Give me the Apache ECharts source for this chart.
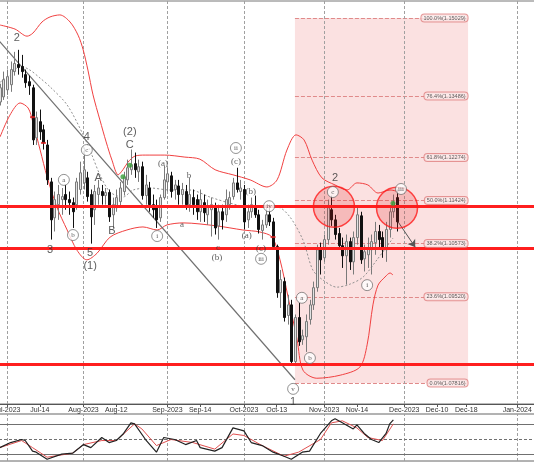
<!DOCTYPE html>
<html><head><meta charset="utf-8">
<script src="https://cdn.jsdelivr.net/npm/echarts@6/dist/echarts.min.js"></script>
<style>html,body{margin:0;padding:0;background:#fff}#c{width:534px;height:462px}</style>
</head><body><div id="c"></div>
<script>
// ---- x axis (bar index: 0 = first trading day of Jul-2023; future part in calendar days) ----
const tickIdx = [0, 9, 21, 30, 44, 53, 65, 74, 87, 96, 109, 118, 126, 140];
const tickLabels = ['Jul-2023','Jul-14','Aug-2023','Aug-12','Sep-2023','Sep-14','Oct-2023','Oct-13','Nov-2023','Nov-14','Dec-2023','Dec-10','Dec-18','Jan-2024'];
const monthIdx = [0, 21, 44, 65, 87, 109, 140];

// ---- daily candles, first bar index = barStart ----
const barStart = -2;
const opens = [
 1.1337,1.1347,1.1361,1.1371,1.1397,1.1411,1.1407,1.1391,1.1377,1.1365,
 1.1266,1.1298,1.1282,1.1252,1.1179,1.1108,1.1134,1.1144,1.1154,1.1144,
 1.1138,1.1134,1.1164,1.1177,1.1187,1.1154,1.1124,1.1154,1.1160,1.1152,
 1.1158,1.1114,1.1128,1.1140,1.1160,1.1183,1.1203,1.1215,1.1199,1.1209,
 1.1152,1.1167,1.1134,1.1128,1.1108,1.1148,1.1179,1.1191,1.1164,1.1171,
 1.1154,1.1160,1.1134,1.1148,1.1144,1.1120,1.1138,1.1114,1.1124,1.1128,
 1.1092,1.1120,1.1114,1.1134,1.1150,1.1177,1.1160,1.1164,1.1104,1.1120,
 1.1130,1.1114,1.1083,1.1094,1.1114,1.1100,1.1051,1.0960,1.0982,1.0915,
 1.0936,1.0824,1.0911,1.0867,1.0873,1.0907,1.0936,1.0970,1.1049,1.1029,
 1.1065,1.1124,1.1104,1.1077,1.1053,1.1033,1.1061,1.1021,1.1069,1.1112,
 1.1027,1.1035,1.1045,1.1059,1.1081,1.1069,1.1045,1.1085,1.1120,1.1148];
const closes = [
 1.1365,1.1381,1.1387,1.1401,1.1413,1.1405,1.1397,1.1375,1.1369,1.1262,
 1.1306,1.1278,1.1256,1.1183,1.1104,1.1144,1.1154,1.1150,1.1144,1.1138,
 1.1120,1.1179,1.1197,1.1203,1.1150,1.1110,1.1160,1.1167,1.1152,1.1158,
 1.1110,1.1134,1.1148,1.1167,1.1189,1.1207,1.1213,1.1203,1.1209,1.1152,
 1.1173,1.1134,1.1124,1.1104,1.1148,1.1183,1.1195,1.1160,1.1173,1.1154,
 1.1164,1.1134,1.1154,1.1134,1.1120,1.1144,1.1118,1.1130,1.1134,1.1088,
 1.1120,1.1104,1.1144,1.1148,1.1177,1.1164,1.1167,1.1100,1.1120,1.1134,
 1.1114,1.1085,1.1094,1.1114,1.1100,1.1051,1.0960,1.0986,1.0911,1.0936,
 1.0824,1.0911,1.0863,1.0875,1.0903,1.0936,1.0970,1.1045,1.1025,1.1065,
 1.1128,1.1104,1.1075,1.1053,1.1033,1.1061,1.1021,1.1069,1.1114,1.1025,
 1.1041,1.1049,1.1061,1.1081,1.1065,1.1045,1.1085,1.1120,1.1138,1.1100];
const highs = [
 1.1373,1.1397,1.1401,1.1417,1.1436,1.1440,1.1430,1.1401,1.1389,1.1371,
 1.1318,1.1322,1.1292,1.1262,1.1187,1.1160,1.1173,1.1167,1.1173,1.1160,
 1.1148,1.1187,1.1219,1.1247,1.1199,1.1164,1.1173,1.1183,1.1173,1.1167,
 1.1164,1.1148,1.1164,1.1179,1.1199,1.1223,1.1243,1.1237,1.1223,1.1219,
 1.1193,1.1179,1.1154,1.1144,1.1154,1.1211,1.1207,1.1199,1.1183,1.1183,
 1.1177,1.1173,1.1187,1.1164,1.1154,1.1164,1.1154,1.1144,1.1148,1.1138,
 1.1134,1.1134,1.1164,1.1160,1.1187,1.1207,1.1183,1.1173,1.1134,1.1148,
 1.1152,1.1124,1.1104,1.1128,1.1134,1.1108,1.1055,1.1005,1.0990,1.0956,
 1.0946,1.0917,1.0940,1.0887,1.0917,1.0946,1.0982,1.1055,1.1059,1.1075,
 1.1144,1.1152,1.1114,1.1088,1.1069,1.1075,1.1069,1.1081,1.1128,1.1120,
 1.1055,1.1069,1.1075,1.1100,1.1094,1.1081,1.1100,1.1128,1.1154,1.1164];
const lows = [
 1.1330,1.1341,1.1351,1.1357,1.1389,1.1391,1.1385,1.1365,1.1351,1.1252,
 1.1252,1.1262,1.1243,1.1173,1.1065,1.1081,1.1104,1.1114,1.1124,1.1114,
 1.1088,1.1124,1.1154,1.1164,1.1140,1.1057,1.1094,1.1134,1.1134,1.1134,
 1.1100,1.1088,1.1120,1.1128,1.1152,1.1173,1.1193,1.1187,1.1179,1.1144,
 1.1134,1.1120,1.1108,1.1088,1.1100,1.1144,1.1160,1.1148,1.1144,1.1134,
 1.1134,1.1124,1.1120,1.1114,1.1104,1.1100,1.1100,1.1094,1.1071,1.1075,
 1.1065,1.1085,1.1100,1.1124,1.1144,1.1158,1.1144,1.1085,1.1088,1.1108,
 1.1108,1.1077,1.1065,1.1088,1.1092,1.1045,1.0950,1.0930,1.0903,1.0897,
 1.0816,1.0816,1.0855,1.0857,1.0843,1.0897,1.0926,1.0962,1.0996,1.1021,
 1.1055,1.1092,1.1065,1.1045,1.1009,1.0976,1.1005,1.0996,1.1055,1.1017,
 1.1002,1.1009,1.0996,1.1035,1.1045,1.1029,1.1021,1.1069,1.1108,1.1081];

// ---- Bollinger bands (read at sampled bar positions) ----
const upperIdx = [-1.9,2.2,5.5,7.1,9.6,11.8,14.5,17.3,19.5,20.9,22.2,23.6,25.5,27.2,28.8,30.5,31.8,33.2,35.1,37.9,43.3,48.8,52.9,57.1,62.0,66.7,71.3,74.1,76.8,79.3,81.5,83.7,86.4,90.0,93.3,96.0,99.0,101.8,105.1,107.8];
const upperVal = [1.1489,1.1481,1.1467,1.1473,1.1495,1.1505,1.1509,1.1495,1.1469,1.1440,1.1400,1.1351,1.1301,1.1258,1.1222,1.1193,1.1203,1.1218,1.1230,1.1232,1.1232,1.1228,1.1224,1.1203,1.1193,1.1183,1.1169,1.1183,1.1242,1.1272,1.1262,1.1222,1.1187,1.1173,1.1163,1.1177,1.1173,1.1157,1.1163,1.1159];
const lowerIdx = [-1.9,0.8,3.6,5.8,7.1,9.1,11.0,13.7,16.5,19.2,21.9,24.7,28.3,32.9,37.3,41.2,43.9,48.3,57.6,64.7,69.4,72.7,74.9,77.1,79.6,81.2,85.0,91.4,96.8,98.8,100.4,101.8,103.7,105.1,105.9];
const lowerVal = [1.1268,1.1311,1.1335,1.1325,1.1297,1.1242,1.1189,1.1129,1.1084,1.1044,1.1025,1.1038,1.1070,1.1084,1.1090,1.1084,1.1094,1.1098,1.1092,1.1084,1.1080,1.1070,1.1025,1.0952,1.0867,1.0807,1.0791,1.0797,1.0813,1.0857,1.0936,1.0975,1.0991,1.0999,1.0995];
const midIdx = [-1.9,0.8,3.6,6.3,9.1,11.8,16.5,20.9,23.3,25.5,28.3,31.8,34.6,39.2,44.7,50.2,55.7,61.2,66.7,71.3,74.3,77.6,81.2,83.9,86.7,90.5,94.1,97.7,101.5,105.9];
const midVal = [1.1376,1.1390,1.1408,1.1400,1.1384,1.1367,1.1331,1.1272,1.1232,1.1193,1.1159,1.1149,1.1163,1.1167,1.1163,1.1163,1.1149,1.1137,1.1129,1.1129,1.1129,1.1110,1.1064,1.1005,1.0985,1.0971,1.0977,1.0991,1.1025,1.1068];

// ---- trend line ----
const trendIdx = [-2.2, 79];
const trendVal = [1.1458, 1.0788];

// ---- horizontal levels ----
const hLines = [1.11304, 1.10470, 1.08191];
const fibPct = ['0.0%','23.6%','38.2%','50.0%','61.8%','76.4%','100.0%'];
const fibVal = [1.07816,1.09520,1.10573,1.11424,1.12274,1.13486,1.15029];
const fibFrom = 79, fibTo = 126.5;

// ---- highlight circles, arrow, markers ----
const circleIdx = [89.7, 107.0];
const circleVal = [1.1130, 1.1128];
const arrowIdx = [107.3, 112];
const arrowVal = [1.1100, 1.1050];
const greenIdx = [31.8, 33.7, 105.9];
const greenVal = [1.1189, 1.1212, 1.1137];
const redMarkIdx = [7, 10, 73];
const redMarkVal = [1.1307, 1.1256, 1.1070];

// ---- wave labels ----
const bigText = ['2','4','(2)','C','A','B','3','5','(1)','2','1'];
const bigIdx  = [2.7,21.9,33.7,33.7,25.0,28.8,11.8,22.8,22.8,90.0,78.5];
const bigVal  = [1.1463,1.1268,1.1278,1.1252,1.1187,1.1082,1.1044,1.1038,1.1013,1.1187,1.0744];
const smallText = ['(a)','b','a','c','(b)','(c)','(b)','(a)','(c)'];
const smallIdx  = [42.8,49.9,48.0,57.9,57.6,62.8,66.9,65.8,69.7];
const smallVal  = [1.1216,1.1191,1.1094,1.1050,1.1029,1.1220,1.1159,1.1072,1.1048];
const circText = ['c','a','b','i','ii','iv','iii','a','b','v','c','i','iii'];
const circIdx  = [21.9,15.6,18.1,41.2,62.8,71.9,69.7,80.9,83.1,78.5,89.4,98.8,108.1];
const circVal  = [1.1242,1.1183,1.1074,1.1072,1.1246,1.1131,1.1027,1.0950,1.0831,1.0770,1.1159,1.0975,1.1165];

// ---- oscillator panel ----
const oscIdx = [-2,1,4,5,7,8,11,15,18,21,23,26,28,30,32,34,35,38,41,43,46,49,52,53,57,59,62,65,67,70,73,76,78,81,83,86,89,90,92,95,96,98,100,102,104,105,106];
const oscMain = [33,43,49,47,26,24,10,20,22,39,33,53,43,47,61,82,80,49,24,53,49,39,47,33,26,33,72,66,43,37,24,16,10,24,26,61,86,90,82,70,78,61,49,43,61,80,88];
const sigIdx = [-2,4,7,11,18,21,26,30,35,37,41,45,51,57,62,65,70,76,80,86,89,92,96,99,103,106];
const sigVal = [33,47,33,14,22,39,47,47,80,70,37,49,43,30,60,57,37,16,24,49,82,86,72,53,47,80];
const oscLevels = [80, 50, 20];

// ================= build =================
const zip = (a, b) => a.map((v, k) => [v, b[k]]);
const bars = opens.map((o, k) => [barStart + k, o, closes[k], lows[k], highs[k]]);
const FONT = 'Liberation Sans, Arial, sans-serif';
const XMIN = -2.195, XMAX = 144.86;

function renderCandle(params, api) {
  const x = api.value(0), o = api.value(1), c = api.value(2), l = api.value(3), h = api.value(4);
  const pO = api.coord([x, o]), pC = api.coord([x, c]), pL = api.coord([x, l]), pH = api.coord([x, h]);
  const up = c >= o;
  const cx = Math.round(pO[0]) + 0.5;
  const top = Math.min(pO[1], pC[1]);
  const bh = Math.max(Math.abs(pO[1] - pC[1]), 1);
  const stroke = up ? '#7a7a7a' : '#111111';
  return {type: 'group', children: [
    {type: 'line', shape: {x1: cx, y1: pH[1], x2: cx, y2: pL[1]}, style: {stroke: stroke, lineWidth: 1}},
    {type: 'rect', shape: {x: cx - 1, y: top, width: 2, height: bh},
     style: {fill: up ? '#e2e2e2' : '#111111', stroke: stroke, lineWidth: 1}}
  ]};
}

const chart = echarts.init(document.getElementById('c'), null, {renderer: 'canvas'});
const option = {
  animation: false,
  backgroundColor: '#ffffff',
  grid: [
    {left: -1, right: -1, top: 1, height: 403, show: true, borderColor: '#777', borderWidth: 1,
     containLabel: false, outerBoundsMode: 'none'},
    {left: -1, right: -1, top: 414, height: 47, show: true, borderColor: '#666', borderWidth: 1,
     containLabel: false, outerBoundsMode: 'none'}
  ],
  xAxis: [
    {type: 'value', gridIndex: 0, min: XMIN, max: XMAX,
     axisLine: {show: true, lineStyle: {color: '#555', width: 1}},
     axisTick: {show: true, customValues: tickIdx, length: 3, lineStyle: {color: '#555'}},
     axisLabel: {show: true, customValues: tickIdx, fontSize: 7, color: '#333', margin: 3, fontFamily: FONT,
       formatter: v => { const k = tickIdx.indexOf(Math.round(v)); return k >= 0 ? tickLabels[k] : ''; }},
     splitLine: {show: false}},
    {type: 'value', gridIndex: 1, min: XMIN, max: XMAX,
     axisLine: {show: false}, axisTick: {show: false}, axisLabel: {show: false}, splitLine: {show: false}}
  ],
  yAxis: [
    {type: 'value', gridIndex: 0, min: 1.07401, max: 1.15365, show: false, splitLine: {show: false}},
    {type: 'value', gridIndex: 1, min: 6.5, max: 99.5, show: false, splitLine: {show: false}}
  ],
  series: [
    // fib retracement area + levels
    {type: 'line', xAxisIndex: 0, yAxisIndex: 0, data: [], silent: true, z: 1,
     markArea: {silent: true, z: 1, itemStyle: {color: 'rgba(235,120,120,0.22)'},
       data: [[{coord: [fibFrom, fibVal[0]]}, {coord: [fibTo, fibVal[fibVal.length - 1]]}]]},
     markLine: {silent: true, z: 1, precision: 6, symbol: ['none', 'none'], label: {show: false},
       lineStyle: {color: '#e08a8a', type: 'dashed', width: 1},
       data: fibVal.map(v => [{coord: [fibFrom, v]}, {coord: [fibTo, v]}])}},
    // month grid lines (main)
    {type: 'line', xAxisIndex: 0, yAxisIndex: 0, data: [], silent: true,
     markLine: {silent: true, z: 1, precision: 6, symbol: ['none', 'none'], label: {show: false},
       lineStyle: {color: '#a0a0a0', type: [3, 2], width: 1},
       data: monthIdx.map(v => ({xAxis: v}))}},
    // bands
    {type: 'line', xAxisIndex: 0, yAxisIndex: 0, data: zip(upperIdx, upperVal), smooth: 0.3, symbol: 'none', z: 2,
     lineStyle: {color: '#f04040', width: 1}, silent: true},
    {type: 'line', xAxisIndex: 0, yAxisIndex: 0, data: zip(lowerIdx, lowerVal), smooth: 0.3, symbol: 'none', z: 2,
     lineStyle: {color: '#f04040', width: 1}, silent: true},
    {type: 'line', xAxisIndex: 0, yAxisIndex: 0, data: zip(midIdx, midVal), smooth: 0.3, symbol: 'none', z: 2,
     lineStyle: {color: '#909090', width: 1, type: [2, 2]}, silent: true},
    // trend line
    {type: 'line', xAxisIndex: 0, yAxisIndex: 0, data: zip(trendIdx, trendVal), symbol: 'none', z: 2,
     lineStyle: {color: '#707070', width: 1.2}, silent: true},
    // candles
    {type: 'custom', xAxisIndex: 0, yAxisIndex: 0, data: bars, encode: {x: 0, y: [1, 2, 3, 4]},
     renderItem: renderCandle, clip: true, z: 3, silent: true},
    // red horizontal lines
    {type: 'line', xAxisIndex: 0, yAxisIndex: 0, data: [], silent: true,
     markLine: {silent: true, z: 4, precision: 6, symbol: ['none', 'none'], label: {show: false},
       lineStyle: {color: '#ff1f1f', type: 'solid', width: 3},
       data: hLines.map(v => ({yAxis: v}))}},
    // highlight circles
    {type: 'scatter', xAxisIndex: 0, yAxisIndex: 0, data: zip(circleIdx, circleVal), symbol: 'circle',
     symbolSize: 41, z: 5, silent: true,
     itemStyle: {color: 'rgba(230,30,30,0.25)', borderColor: '#ff1a1a', borderWidth: 1.5}},
    // arrow
    {type: 'line', xAxisIndex: 0, yAxisIndex: 0, data: [], silent: true,
     markLine: {silent: true, z: 5, precision: 6, symbol: ['none', 'arrow'], symbolSize: 7, label: {show: false},
       lineStyle: {color: '#555', type: 'solid', width: 1},
       data: [[{coord: [arrowIdx[0], arrowVal[0]]}, {coord: [arrowIdx[1], arrowVal[1]]}]]}},
    // green dots & red marks
    {type: 'scatter', xAxisIndex: 0, yAxisIndex: 0, data: zip(greenIdx, greenVal), symbolSize: 5, z: 6, silent: true,
     itemStyle: {color: '#3aa03a'}},
    {type: 'scatter', xAxisIndex: 0, yAxisIndex: 0, data: zip(redMarkIdx, redMarkVal), symbol: 'rect', symbolSize: [5, 2], z: 6, silent: true,
     itemStyle: {color: '#e02020'}},
    // fib labels
    {type: 'scatter', xAxisIndex: 0, yAxisIndex: 0, data: fibVal.map((v, k) => [fibTo, v, fibPct[k] + '(' + v.toFixed(5) + ')']),
     symbolSize: 1, z: 6, silent: true, itemStyle: {color: 'rgba(0,0,0,0)'},
     label: {show: true, position: 'left', distance: 0, formatter: p => p.data[2], fontSize: 5.5, fontFamily: FONT, color: '#333',
       backgroundColor: '#fdeeee', borderColor: '#e08080', borderWidth: 1, borderRadius: 3, padding: [1, 2, 0, 2]}},
    // wave labels
    {type: 'scatter', xAxisIndex: 0, yAxisIndex: 0, data: bigText.map((t, k) => [bigIdx[k], bigVal[k], t]),
     symbolSize: 1, z: 7, silent: true, itemStyle: {color: 'rgba(0,0,0,0)'},
     label: {show: true, position: 'inside', formatter: p => p.data[2], fontSize: 11, fontFamily: FONT, color: '#333'}},
    {type: 'scatter', xAxisIndex: 0, yAxisIndex: 0, data: smallText.map((t, k) => [smallIdx[k], smallVal[k], t]),
     symbolSize: 1, z: 7, silent: true, itemStyle: {color: 'rgba(0,0,0,0)'},
     label: {show: true, position: 'inside', formatter: p => p.data[2], fontSize: 9, fontFamily: 'Liberation Serif, serif', color: '#333'}},
    {type: 'scatter', xAxisIndex: 0, yAxisIndex: 0, data: circText.map((t, k) => [circIdx[k], circVal[k], t]),
     symbol: 'circle', symbolSize: 11, z: 7, silent: true,
     itemStyle: {color: '#ffffff', borderColor: '#555', borderWidth: 0.8},
     label: {show: true, position: 'inside', formatter: p => p.data[2], fontSize: 7, fontFamily: 'Liberation Serif, serif', color: '#333'}},
    // ---- oscillator panel ----
    {type: 'line', xAxisIndex: 1, yAxisIndex: 1, data: [], silent: true,
     markLine: {silent: true, z: 1, precision: 6, symbol: ['none', 'none'], label: {show: false},
       lineStyle: {color: '#a0a0a0', type: [3, 2], width: 1},
       data: monthIdx.map(v => ({xAxis: v}))}},
    {type: 'line', xAxisIndex: 1, yAxisIndex: 1, data: [], silent: true,
     markLine: {silent: true, z: 1, precision: 6, symbol: ['none', 'none'], label: {show: false},
       lineStyle: {color: '#707070', width: 1},
       data: oscLevels.map(v => ({yAxis: v, lineStyle: {type: v === 50 ? [3, 2] : 'solid'}}))}},
    {type: 'line', xAxisIndex: 1, yAxisIndex: 1, data: zip(sigIdx, sigVal), symbol: 'none', z: 3, silent: true,
     lineStyle: {color: '#e05050', width: 1}},
    {type: 'line', xAxisIndex: 1, yAxisIndex: 1, data: zip(oscIdx, oscMain), symbol: 'none', z: 4, silent: true,
     lineStyle: {color: '#222222', width: 1.2}}
  ]
};
chart.setOption(option);
</script>
</body></html>
